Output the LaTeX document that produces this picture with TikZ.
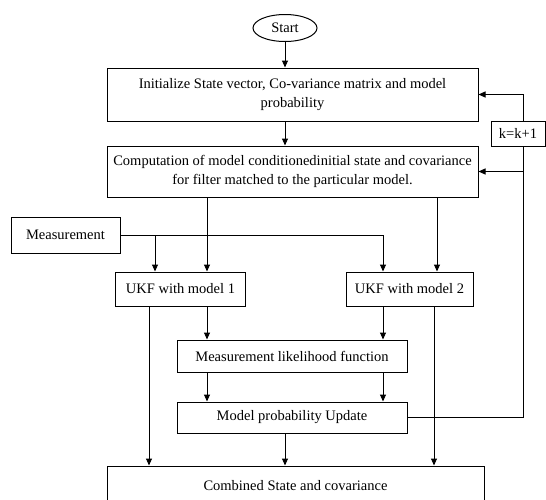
\documentclass[tikz,border=0pt]{standalone}
\usepackage{fontspec}
\setmainfont{Liberation Serif}
\usepackage{tikz}
\usetikzlibrary{shapes,positioning,calc,arrows.meta}

\begin{document}
\begin{tikzpicture}[x=1pt, y=-1pt, line width=1pt,
    box/.style={draw, rectangle, inner sep=0pt, align=center, font=\fontsize{14.5}{18.5}\selectfont},
    arr/.style={-{Triangle[length=7pt, width=6pt]}}]
    \useasboundingbox (0,0) rectangle (546,499);

    % Blocks
    \node[draw, ellipse, minimum width=64pt, minimum height=27pt, inner sep=0pt, font=\fontsize{14.5}{18.5}\selectfont] (start) at (285,28) {Start};
    \node[box, minimum width=371pt, minimum height=53pt] (init) at (292.5,94.5) {Initialize State vector, Co-variance matrix and model\\probability};
    \node[box, minimum width=371pt, minimum height=51pt] (comp) at (292.5,171.5) {Computation of model conditionedinitial state and covariance\\for filter matched to the particular model.};
    \node[box, minimum width=54pt, minimum height=25pt] (inc) at (518,133.5) {k=k+1};
    \node[box, minimum width=109pt, minimum height=36pt] (meas) at (65.5,235) {Measurement};
    \node[box, minimum width=130pt, minimum height=34pt] (ukf1) at (180.5,289) {UKF with model 1};
    \node[box, minimum width=127pt, minimum height=34pt] (ukf2) at (409.5,289) {UKF with model 2};
    \node[box, minimum width=230pt, minimum height=32pt] (lik) at (292,356) {Measurement likelihood function};
    \node[box, minimum width=230pt, minimum height=31pt] (upd) at (292,417.5) {Model probability Update};
    \node[box, minimum width=377pt, minimum height=40pt] (comb) at (295.5,486) {Combined State and covariance};

    % Columns of the arrows
    \coordinate (xa) at (149,0);
    \coordinate (xb) at (155,0);
    \coordinate (xc) at (207,0);
    \coordinate (xm) at (285,0);
    \coordinate (xd) at (383,0);
    \coordinate (xe) at (434,0);
    \coordinate (xf) at (437,0);
    \coordinate (fb) at (523,0);

    % Main flow
    \draw[arr] (start.south -| xm) -- (init.north -| xm);
    \draw[arr] (init.south -| xm) -- (comp.north -| xm);
    \draw[arr] (comp.south -| xc) -- (ukf1.north -| xc);
    \draw[arr] (comp.south -| xf) -- (ukf2.north -| xf);

    % Measurement
    \draw[arr] (meas.east) -| (ukf2.north -| xd);
    \draw[arr] (meas.east -| xb) -- (ukf1.north -| xb);

    % Filters to likelihood and update
    \draw[arr] (ukf1.south -| xc) -- (lik.north -| xc);
    \draw[arr] (ukf2.south -| xd) -- (lik.north -| xd);
    \draw[arr] (lik.south -| xc) -- (upd.north -| xc);
    \draw[arr] (lik.south -| xd) -- (upd.north -| xd);

    % Combination
    \draw[arr] (ukf1.south -| xa) -- (comb.north -| xa);
    \draw[arr] (upd.south -| xm) -- (comb.north -| xm);
    \draw[arr] (ukf2.south -| xe) -- (comb.north -| xe);

    % Feedback loop
    \draw (upd.east) -| (inc.south -| fb);
    \draw[arr] (inc.north -| fb) |- (init.east);
    \draw[arr] (fb |- comp.east) -- (comp.east);
\end{tikzpicture}
\end{document}
